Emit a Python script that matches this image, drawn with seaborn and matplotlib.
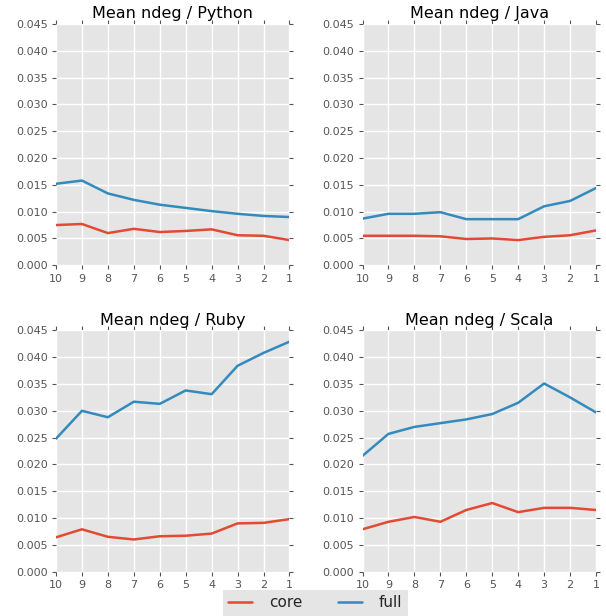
import numpy as np
import pandas as pd
import matplotlib
matplotlib.use("Agg")
import matplotlib.pyplot as plt
from matplotlib.lines import Line2D
import seaborn as sns

# Rank buckets, shown from 10 down to 1
ranks = [10, 9, 8, 7, 6, 5, 4, 3, 2, 1]
languages = ["Python", "Java", "Ruby", "Scala"]
series_names = ["core", "full"]

python_core = [0.0075, 0.0077, 0.0060, 0.0068, 0.0062, 0.0064, 0.0067, 0.0056, 0.0055, 0.0047]
python_full = [0.0152, 0.0158, 0.0134, 0.0122, 0.0113, 0.0107, 0.0101, 0.0096, 0.0092, 0.0090]
java_core = [0.0055, 0.0055, 0.0055, 0.0054, 0.0049, 0.0050, 0.0047, 0.0053, 0.0056, 0.0065]
java_full = [0.0087, 0.0096, 0.0096, 0.0099, 0.0086, 0.0086, 0.0086, 0.0110, 0.0120, 0.0144]
ruby_core = [0.0064, 0.0079, 0.0065, 0.0060, 0.0066, 0.0067, 0.0071, 0.0090, 0.0091, 0.0098]
ruby_full = [0.0248, 0.0300, 0.0288, 0.0317, 0.0313, 0.0338, 0.0331, 0.0384, 0.0408, 0.0429]
scala_core = [0.0079, 0.0093, 0.0102, 0.0093, 0.0115, 0.0128, 0.0111, 0.0119, 0.0119, 0.0115]
scala_full = [0.0216, 0.0257, 0.0270, 0.0277, 0.0284, 0.0294, 0.0315, 0.0351, 0.0325, 0.0297]

y_ticks = [0.000, 0.005, 0.010, 0.015, 0.020, 0.025, 0.030, 0.035, 0.040, 0.045]

values = {
    "Python": {"core": python_core, "full": python_full},
    "Java": {"core": java_core, "full": java_full},
    "Ruby": {"core": ruby_core, "full": ruby_full},
    "Scala": {"core": scala_core, "full": scala_full},
}

rows = []
for lang in languages:
    for s in series_names:
        for r, v in zip(ranks, values[lang][s]):
            rows.append({"language": lang, "series": s, "rank": r, "value": v})
df = pd.DataFrame(rows)

palette = {"core": "#E24A33", "full": "#348ABD"}
tick_gray = "#555555"

sns.set_theme(style="darkgrid", rc={
    "axes.facecolor": "#E5E5E5",
    "axes.edgecolor": "white",
    "grid.color": "white",
    "grid.linewidth": 1.0,
    "figure.facecolor": "white",
})
plt.rcParams["font.family"] = ["DejaVu Sans"]

fig, axes = plt.subplots(2, 2, figsize=(6.06, 6.16), dpi=100)
fig.subplots_adjust(left=0.0924, right=0.9835, top=0.961, bottom=0.072,
                    wspace=0.313, hspace=0.27)

for ax, lang in zip(axes.flat, languages):
    sub = df[df["language"] == lang]
    sns.lineplot(data=sub, x="rank", y="value", hue="series", palette=palette,
                 hue_order=series_names, ax=ax, legend=False, linewidth=1.8)
    ax.set_xlim(10, 1)
    ax.set_ylim(0, 0.045)
    ax.set_xticks(ranks)
    ax.set_xticklabels([str(r) for r in ranks])
    ax.set_yticks(y_ticks)
    ax.set_yticklabels([f"{t:.3f}" for t in y_ticks])
    ax.set_xlabel("")
    ax.set_ylabel("")
    ax.set_title(f"Mean ndeg / {lang}", fontsize=11.5, color="black", pad=4)
    ax.tick_params(axis="both", which="both", direction="out", length=3,
                   width=0.8, color=tick_gray, labelcolor=tick_gray,
                   labelsize=8, pad=3, top=True, right=True,
                   bottom=True, left=True, labeltop=False, labelright=False)
    for spine in ax.spines.values():
        spine.set_visible(False)

handles = [Line2D([0], [0], color=palette[s], linewidth=1.8) for s in series_names]
leg = fig.legend(handles, series_names, loc="upper center",
                 bbox_to_anchor=(0.52, 1 - 590 / 616), ncol=2, frameon=True,
                 fontsize=11, handlelength=1.6, handletextpad=1.1,
                 columnspacing=2.3, borderpad=0.35, borderaxespad=0.0,
                 fancybox=False)
leg.get_frame().set_facecolor("#E5E5E5")
leg.get_frame().set_edgecolor("none")
leg.get_frame().set_alpha(1.0)

fig.savefig("out.png", dpi=100)
